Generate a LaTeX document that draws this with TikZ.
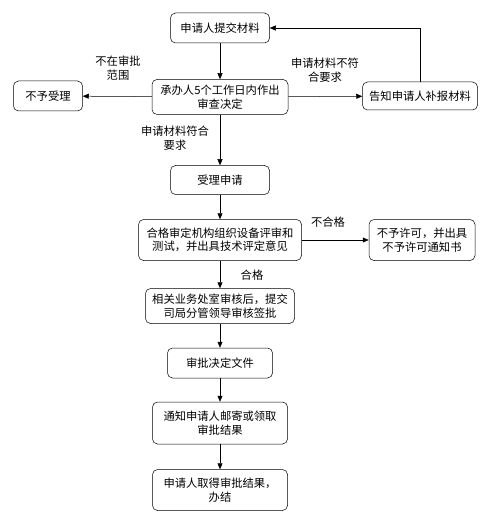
\documentclass[tikz,border=0pt]{standalone}
\usepackage{fontspec}
\setmainfont{Noto Sans CJK SC}
\usepackage{tikz}
\usetikzlibrary{arrows.meta, positioning, calc}

\begin{document}
\begin{tikzpicture}[x=1pt, y=-1pt,
    font=\fontsize{11.3}{13.5}\selectfont,
    box/.style={draw, rounded corners=5pt, align=center, inner sep=1pt, line width=0.5pt},
    lbl/.style={align=center, inner sep=0pt},
    flow/.style={-{Triangle[length=6pt,width=5pt]}, line width=0.5pt}]
\useasboundingbox (0,0) rectangle (493,521);
% boxes
\node[box, minimum width=99pt, minimum height=30pt] (submit) at (220,28) {申请人提交材料};
\node[box, minimum width=136pt, minimum height=35pt] (decide) at (220,97) {承办人5个工作日内作出\\审查决定};
\node[box, minimum width=69pt, minimum height=30pt] (reject) at (48,96) {不予受理};
\node[box, minimum width=115pt, minimum height=28pt] (notify) at (420,96) {告知申请人补报材料};
\node[box, minimum width=99pt, minimum height=29pt] (accept) at (220,180) {受理申请};
\node[box, minimum width=163pt, minimum height=41pt] (review) at (220,240) {合格审定机构组织设备评审和\\测试，并出具技术评定意见};
\node[box, minimum width=106pt, minimum height=41pt] (deny) at (422,240) {不予许可，并出具\\不予许可通知书};
\node[box, minimum width=149pt, minimum height=35pt] (approve) at (220,306) {相关业务处室审核后，提交\\司局分管领导审核签批};
\node[box, minimum width=105pt, minimum height=30pt] (doc) at (220,363) {审批决定文件};
\node[box, minimum width=135pt, minimum height=42pt] (inform) at (220,423) {通知申请人邮寄或领取\\审批结果};
\node[box, minimum width=135pt, minimum height=41pt] (done) at (220,490) {申请人取得审批结果，\\办结};
% labels
\node[lbl] (lout) at (118,68) {不在审批\\范围};
\node[lbl] (lbad) at (325,70) {申请材料不符\\合要求};
\node[lbl] (lok) at (175,138) {申请材料符合\\要求};
\node[lbl] (lfail) at (328,222) {不合格};
\node[lbl] (lpass) at (252,275) {合格};
% connectors
\draw[flow] (submit) -- (decide);
\draw[flow] (decide) -- (reject);
\draw[flow] (decide) -- (notify);
\draw[flow] (notify.north) |- (submit.east);
\draw[flow] (decide) -- (accept);
\draw[flow] (accept) -- (review);
\draw[flow] (review) -- (deny);
\draw[flow] (review) -- (approve);
\draw[flow] (approve) -- (doc);
\draw[flow] (doc) -- (inform);
\draw[flow] (inform) -- (done);
\end{tikzpicture}
\end{document}
